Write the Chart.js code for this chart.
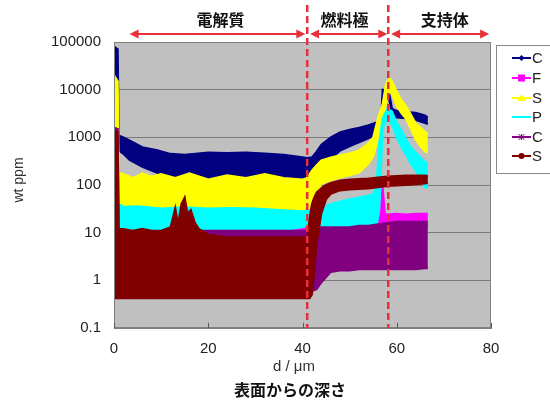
<!DOCTYPE html>
<html>
<head>
<meta charset="utf-8">
<script src="https://cdn.jsdelivr.net/npm/chart.js@4.4.0/dist/chart.umd.min.js"></script>
<style>
  html, body { margin: 0; padding: 0; background: #fff; }
  #wrap { width: 550px; height: 400px; }
</style>
</head>
<body>
<div id="wrap"><canvas id="c" width="550" height="400"></canvas></div>
<script>
// depth (um) and upper / lower envelope (wt ppm) of each element's scatter band
const cX  = [0, 0.8, 1, 2, 3.3, 6, 9, 12, 15, 20, 24, 28, 32, 36, 40, 41, 42, 43, 44, 46, 48, 50, 52, 54, 56, 56.7, 57, 58.3, 59, 60, 62, 64, 66, 66.6];
const cHi = [80000, 70000, 1100, 1000, 860, 620, 540, 450, 430, 480, 470, 480, 460, 430, 380, 370, 380, 500, 700, 1000, 1280, 1450, 1600, 1800, 2100, 2400, 10000, 9500, 4000, 3600, 3400, 3300, 2900, 2600];
const cLo = [1000, 1000, 530, 450, 335, 240, 183, 157, 143, 112, 108, 105, 100, 100, 95, 110, 140, 170, 200, 350, 530, 650, 790, 950, 1200, 1400, 7000, 7000, 3000, 2600, 2500, 2300, 2000, 1900];

const fX  = [1, 5, 10, 20, 30, 36, 38, 40, 42, 44, 46, 50, 54, 55.7, 56.5, 57, 57.5, 58, 60, 62, 64, 66, 66.6];
const fHi = [14, 14, 14, 14, 14, 14, 15, 15, 15, 15, 12, 12, 12, 12, 25, 90, 25, 24, 25, 24, 25, 25, 25];
const fLo = [6, 6, 6, 6, 6, 6, 8, 8, 8, 8, 7, 7, 7, 7, 13, 13, 13, 13, 13, 13, 13, 13, 13];

const sX  = [0, 0.8, 1, 2, 4, 6, 8, 10, 13, 16, 20, 24, 28, 32, 36, 40, 41, 42, 43, 44, 46, 48, 50, 52, 54, 55, 56, 57, 57.7, 58.4, 59, 60, 61, 62, 63, 64, 65, 66, 66.6];
const sHi = [20000, 15000, 180, 170, 140, 175, 150, 170, 140, 175, 130, 160, 140, 170, 140, 130, 140, 200, 260, 330, 380, 420, 460, 530, 750, 1000, 2500, 5000, 13000, 17500, 15000, 9000, 6000, 4500, 3000, 2000, 1600, 1300, 1200];
const sLo = [1700, 1700, 30, 28, 26, 26, 26, 26, 26, 26, 26, 26, 26, 26, 26, 26, 30, 40, 75, 107, 125, 143, 160, 183, 280, 400, 900, 1800, 5000, 9500, 8000, 4500, 3200, 2400, 1500, 900, 650, 500, 480];

const pX  = [1, 2, 5, 10, 15, 20, 25, 30, 35, 40, 42, 44, 46, 48, 50, 52, 54, 55, 55.7, 56.3, 57, 58, 59, 60, 61, 62, 63, 64, 65, 66, 66.6];
const pHi = [40, 35, 36, 32, 34, 32, 33, 32, 30, 28, 30, 35, 40, 45, 50, 55, 60, 65, 100, 800, 2500, 4000, 3500, 2000, 1400, 900, 620, 480, 380, 300, 280];
const pLo = [11, 11, 11, 11, 11, 11, 11, 11, 11, 13, 15, 14, 13, 13, 13, 13, 13, 13, 13, 30, 1500, 2500, 1800, 1000, 620, 420, 280, 200, 140, 90, 85];

const uX  = [0, 0.8, 1, 2, 5, 10, 15, 20, 25, 30, 35, 40, 41, 42, 43, 44, 46, 48, 50, 52, 54, 56, 58, 60, 62, 64, 66, 66.6];
const uHi = [1500, 1500, 11, 10, 10, 10, 11, 11, 11, 11, 11, 11, 11, 12, 12, 13, 13, 13, 13, 14, 14, 15, 16, 17, 17, 17, 17, 17];
const uLo = [0.6, 0.6, 0.6, 0.6, 0.55, 0.55, 0.55, 0.6, 0.6, 0.6, 0.6, 0.6, 0.6, 0.6, 0.65, 0.9, 1.5, 1.6, 1.6, 1.7, 1.7, 1.7, 1.7, 1.7, 1.7, 1.7, 1.8, 1.8];

const rX  = [0, 0.8, 1, 2, 4, 6, 8, 10, 12, 13, 13.6, 14.3, 15, 15.6, 16.3, 17.2, 18, 20, 24, 28, 32, 36, 40, 41, 41.5, 42, 42.5, 43, 44, 45, 46, 48, 50, 54, 58, 62, 66, 66.6];
const rHi = [1300, 1300, 12, 12, 11, 12, 11, 11, 13, 33, 15, 40, 55, 25, 30, 16, 12, 9, 8, 8, 8, 8, 8, 8, 20, 40, 55, 70, 85, 100, 110, 125, 130, 137, 150, 158, 158, 155];
const rLo = [0.42, 0.42, 0.42, 0.42, 0.42, 0.42, 0.42, 0.42, 0.42, 0.42, 0.42, 0.42, 0.42, 0.42, 0.42, 0.42, 0.42, 0.42, 0.42, 0.42, 0.42, 0.42, 0.42, 0.42, 0.42, 0.5, 1.5, 6, 25, 50, 65, 77, 80, 84, 95, 100, 107, 110];

const legendNames = ['C', 'F', 'S', 'P', 'C', 'S'];
const yTicks = [0.1, 1, 10, 100, 1000, 10000, 100000];
const xTicks = [0, 20, 40, 60, 80];
const layerX = [41, 58.2];                       // dashed boundaries
const regions = ['電解質', '燃料極', '支持体'];
const regionSpan = [[3.3, 40.6], [41.6, 58.0], [58.8, 79.6]];
const regionLabelX = [22.6, 48.9, 70.2];

const series = [
  { name: legendNames[0], color: '#000080', x: cX, hi: cHi, lo: cLo, mark: 'diamond' },
  { name: legendNames[1], color: '#ff00ff', x: fX, hi: fHi, lo: fLo, mark: 'square' },
  { name: legendNames[2], color: '#ffff00', x: sX, hi: sHi, lo: sLo, mark: 'triangle' },
  { name: legendNames[3], color: '#00ffff', x: pX, hi: pHi, lo: pLo, mark: 'none' },
  { name: legendNames[4], color: '#800080', x: uX, hi: uHi, lo: uLo, mark: 'star' },
  { name: legendNames[5], color: '#800000', x: rX, hi: rHi, lo: rLo, mark: 'circle' }
];

function pts(xs, ys) { return xs.map((x, i) => ({ x: x, y: ys[i] })); }

const datasets = [];
series.forEach((s, i) => {
  const ord = series.length - i;   // excel order: last series on top
  const common = { borderColor: s.color, borderWidth: 2, pointRadius: 0, tension: 0, order: ord };
  datasets.push(Object.assign({ label: s.name, data: pts(s.x, s.hi), backgroundColor: s.color, fill: '+1' }, common));
  datasets.push(Object.assign({ label: s.name + ' lo', data: pts(s.x, s.lo), fill: false }, common));
});

const FONT = "'Liberation Sans', Arial, sans-serif";
const JFONT = "'Noto Sans CJK JP', sans-serif";

const plotBg = {
  id: 'plotBg',
  beforeDraw(chart) {
    const a = chart.chartArea, ctx = chart.ctx;
    ctx.save();
    ctx.fillStyle = '#c0c0c0';
    ctx.fillRect(a.left, a.top, a.right - a.left, a.bottom - a.top);
    ctx.restore();
  }
};

function marker(ctx, kind, x, y, color) {
  ctx.fillStyle = color;
  ctx.strokeStyle = color;
  ctx.beginPath();
  if (kind === 'diamond') {
    ctx.moveTo(x, y - 3); ctx.lineTo(x + 3, y); ctx.lineTo(x, y + 3); ctx.lineTo(x - 3, y); ctx.closePath(); ctx.fill();
  } else if (kind === 'square') {
    ctx.fillRect(x - 3.5, y - 3.5, 7, 7);
  } else if (kind === 'triangle') {
    ctx.moveTo(x, y - 4); ctx.lineTo(x + 4, y + 3); ctx.lineTo(x - 4, y + 3); ctx.closePath(); ctx.fill();
  } else if (kind === 'star') {
    ctx.lineWidth = 1;
    ctx.moveTo(x - 3, y - 3); ctx.lineTo(x + 3, y + 3);
    ctx.moveTo(x + 3, y - 3); ctx.lineTo(x - 3, y + 3);
    ctx.moveTo(x, y - 3); ctx.lineTo(x, y + 3);
    ctx.stroke();
  } else if (kind === 'circle') {
    ctx.arc(x, y, 3, 0, Math.PI * 2); ctx.fill();
  }
}

function arrowHead(ctx, x, y, dir) {
  ctx.beginPath();
  ctx.moveTo(x, y);
  ctx.lineTo(x - dir * 9, y - 4.5);
  ctx.lineTo(x - dir * 9, y + 4.5);
  ctx.closePath();
  ctx.fill();
}

const decor = {
  id: 'decor',
  afterDatasetsDraw(chart) {
    const ctx = chart.ctx, a = chart.chartArea;
    const xs = chart.scales.x;
    ctx.save();
    // plot frame
    ctx.strokeStyle = '#808080';
    ctx.lineWidth = 1;
    ctx.strokeRect(a.left + 0.5, a.top + 0.5, a.right - a.left - 1, a.bottom - a.top - 1);
    // inside x ticks
    ctx.strokeStyle = '#555';
    xTicks.forEach(v => {
      const px = Math.round(xs.getPixelForValue(v)) + 0.5;
      ctx.beginPath(); ctx.moveTo(px, a.bottom); ctx.lineTo(px, a.bottom - 5); ctx.stroke();
    });
    // dashed layer boundaries
    ctx.strokeStyle = '#e8303a';
    ctx.lineWidth = 2.5;
    ctx.setLineDash([7, 4]);
    layerX.forEach(v => {
      const px = xs.getPixelForValue(v);
      ctx.beginPath(); ctx.moveTo(px, 5); ctx.lineTo(px, a.bottom); ctx.stroke();
    });
    ctx.setLineDash([]);
    // region arrows
    ctx.fillStyle = '#e8303a';
    ctx.lineWidth = 2;
    regionSpan.forEach(sp => {
      const x0 = xs.getPixelForValue(sp[0]), x1 = xs.getPixelForValue(sp[1]), y = 34;
      ctx.beginPath(); ctx.moveTo(x0 + 4, y); ctx.lineTo(x1 - 4, y); ctx.stroke();
      arrowHead(ctx, x0, y, -1);
      arrowHead(ctx, x1, y, 1);
    });
    // region names
    ctx.fillStyle = '#111';
    ctx.font = 'bold 16px ' + JFONT;
    ctx.textAlign = 'center';
    ctx.textBaseline = 'middle';
    regions.forEach((t, i) => ctx.fillText(t, xs.getPixelForValue(regionLabelX[i]), 20));
    // axis titles
    ctx.fillStyle = '#333';
    ctx.font = '15px ' + FONT;
    ctx.fillText('d / μm', 294, 367);
    ctx.fillStyle = '#111';
    ctx.font = 'bold 16px ' + JFONT;
    ctx.fillText('表面からの深さ', 290, 390);
    ctx.save();
    ctx.translate(19, 180);
    ctx.rotate(-Math.PI / 2);
    ctx.fillStyle = '#333';
    ctx.font = '14px ' + FONT;
    ctx.fillText('wt ppm', 0, 0);
    ctx.restore();
    // legend
    ctx.fillStyle = '#fff';
    ctx.fillRect(496, 45, 70, 128);
    ctx.strokeStyle = '#888';
    ctx.lineWidth = 1;
    ctx.strokeRect(496.5, 45.5, 70, 128);
    const rows = [58, 78, 98, 117, 137, 156];
    series.forEach((s, i) => {
      const y = rows[i];
      ctx.strokeStyle = s.color;
      ctx.lineWidth = 2;
      ctx.beginPath(); ctx.moveTo(512, y); ctx.lineTo(531, y); ctx.stroke();
      marker(ctx, s.mark, 521.5, y, s.color);
      ctx.fillStyle = '#222';
      ctx.font = '15px ' + FONT;
      ctx.textAlign = 'left';
      ctx.fillText(s.name, 532, y + 1);
    });
    ctx.restore();
  }
};

new Chart(document.getElementById('c'), {
  type: 'line',
  data: { datasets: datasets },
  options: {
    responsive: false,
    devicePixelRatio: 1,
    animation: false,
    layout: { padding: { left: 0, top: 42, right: 59, bottom: 0 } },
    plugins: { legend: { display: false }, tooltip: { enabled: false } },
    scales: {
      x: {
        type: 'linear', min: 0, max: 80,
        afterFit(s) { s.height = 72; },
        afterBuildTicks(s) { s.ticks = xTicks.map(v => ({ value: v })); },
        grid: { drawOnChartArea: false, drawTicks: false },
        border: { color: '#808080' },
        ticks: { padding: 12, color: '#222', font: { family: FONT, size: 15 } }
      },
      y: {
        type: 'logarithmic', min: 0.1, max: 100000,
        afterFit(s) { s.width = 114; },
        afterBuildTicks(s) { s.ticks = yTicks.map(v => ({ value: v })); },
        grid: { color: '#7a7a7a', drawTicks: false },
        border: { color: '#808080' },
        ticks: { padding: 13, color: '#222', font: { family: FONT, size: 15 }, callback: v => String(v) }
      }
    }
  },
  plugins: [plotBg, decor]
});
</script>
</body>
</html>
